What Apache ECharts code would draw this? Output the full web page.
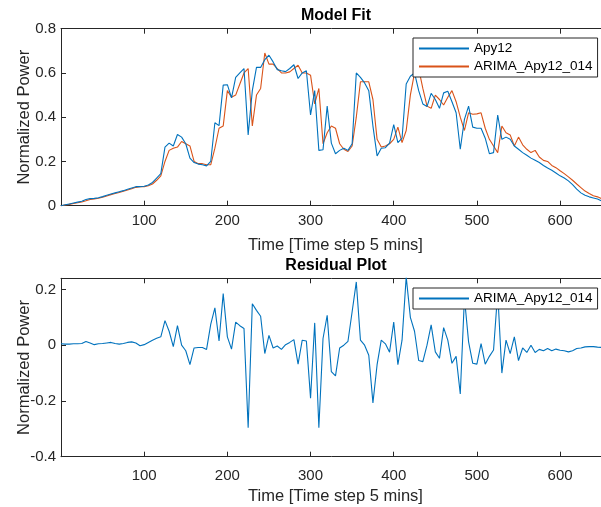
<!DOCTYPE html>
<html>
<head>
<meta charset="utf-8">
<script src="https://cdn.jsdelivr.net/npm/echarts@6/dist/echarts.min.js"></script>
<style>
  html, body { margin: 0; padding: 0; background: #fff; }
  #chart { width: 601px; height: 507px; }
</style>
</head>
<body>
<div id="chart"></div>
<script>
// Time index (every 5th step)
const timeSteps = [
  0, 5, 10, 15, 20, 25, 30, 35, 40, 45, 50, 55, 60, 65, 70, 75, 80, 85, 90, 95,
  100, 105, 110, 115, 120, 125, 130, 135, 140, 145, 150, 155, 160, 165, 170, 175, 180, 185, 190, 195,
  200, 205, 210, 215, 220, 225, 230, 235, 240, 245, 250, 255, 260, 265, 270, 275, 280, 285, 290, 295,
  300, 305, 310, 315, 320, 325, 330, 335, 340, 345, 350, 355, 360, 365, 370, 375, 380, 385, 390, 395,
  400, 405, 410, 415, 420, 425, 430, 435, 440, 445, 450, 455, 460, 465, 470, 475, 480, 485, 490, 495,
  500, 505, 510, 515, 520, 525, 530, 535, 540, 545, 550, 555, 560, 565, 570, 575, 580, 585, 590, 595,
  600, 605, 610, 615, 620, 625, 630, 635, 640, 645, 650, 655, 660
];

// Measured normalized power
const apy12 = [
  0.000, 0.004, 0.008, 0.012, 0.016, 0.020, 0.028, 0.032, 0.033, 0.036, 0.041, 0.047, 0.053, 0.058, 0.063, 0.068, 0.074, 0.080, 0.086, 0.086,
  0.088, 0.094, 0.105, 0.125, 0.145, 0.265, 0.283, 0.270, 0.322, 0.310, 0.280, 0.215, 0.195, 0.188, 0.185, 0.180, 0.200, 0.375, 0.362, 0.545,
  0.547, 0.487, 0.580, 0.600, 0.620, 0.320, 0.520, 0.625, 0.625, 0.660, 0.680, 0.650, 0.615, 0.610, 0.606, 0.620, 0.637, 0.575, 0.600, 0.610,
  0.410, 0.520, 0.250, 0.253, 0.450, 0.283, 0.235, 0.250, 0.260, 0.250, 0.280, 0.600, 0.580, 0.555, 0.520, 0.360, 0.225, 0.260, 0.262, 0.283,
  0.366, 0.285, 0.305, 0.550, 0.585, 0.600, 0.520, 0.460, 0.448, 0.508, 0.480, 0.440, 0.510, 0.517, 0.470, 0.420, 0.255, 0.390, 0.450, 0.355,
  0.350, 0.350, 0.305, 0.235, 0.240, 0.410, 0.300, 0.310, 0.300, 0.270, 0.255, 0.240, 0.228, 0.215, 0.205, 0.195, 0.182, 0.170, 0.160, 0.148,
  0.135, 0.125, 0.112, 0.095, 0.075, 0.058, 0.047, 0.040, 0.035, 0.030, 0.022, 0.016, 0.010
];

// ARIMA model output
const arimaFit = [
  0.000, 0.003, 0.006, 0.010, 0.013, 0.017, 0.022, 0.028, 0.031, 0.034, 0.038, 0.044, 0.050, 0.055, 0.060, 0.065, 0.071, 0.077, 0.083, 0.086,
  0.086, 0.090, 0.098, 0.115, 0.135, 0.200, 0.250, 0.260, 0.265, 0.290, 0.280, 0.270, 0.200, 0.190, 0.190, 0.185, 0.185, 0.260, 0.350, 0.360,
  0.520, 0.490, 0.500, 0.550, 0.600, 0.620, 0.360, 0.500, 0.530, 0.690, 0.640, 0.640, 0.620, 0.600, 0.600, 0.605, 0.620, 0.635, 0.600, 0.600,
  0.590, 0.460, 0.530, 0.280, 0.330, 0.360, 0.350, 0.280, 0.255, 0.245, 0.270, 0.400, 0.560, 0.560, 0.560, 0.480, 0.300, 0.265, 0.270, 0.280,
  0.300, 0.355, 0.285, 0.340, 0.500, 0.600, 0.620, 0.530, 0.450, 0.440, 0.500, 0.480, 0.455, 0.490, 0.520, 0.470, 0.400, 0.340, 0.420, 0.413,
  0.415, 0.420, 0.350, 0.300, 0.270, 0.240, 0.360, 0.330, 0.320, 0.270, 0.310, 0.275, 0.255, 0.240, 0.250, 0.220, 0.205, 0.200, 0.182, 0.172,
  0.158, 0.145, 0.130, 0.115, 0.098, 0.082, 0.066, 0.055, 0.045, 0.040, 0.032, 0.025, 0.018
];

// Residuals of the ARIMA fit
const residuals = [
  0.005, 0.004, 0.004, 0.005, 0.005, 0.006, 0.013, 0.008, 0.002, 0.005, 0.006, 0.008, 0.010, 0.006, 0.004, 0.006, 0.010, 0.012, 0.008, -0.002,
  0.002, 0.010, 0.018, 0.025, 0.030, 0.088, 0.050, -0.005, 0.070, 0.000, -0.020, -0.070, -0.010, -0.008, -0.008, -0.015, 0.075, 0.134, 0.015, 0.185,
  0.030, -0.014, 0.083, 0.070, 0.060, -0.296, 0.149, 0.125, 0.104, -0.030, 0.035, -0.010, -0.003, -0.015, 0.002, 0.010, 0.020, -0.068, 0.018, 0.015,
  -0.190, 0.080, -0.296, 0.024, 0.107, -0.095, -0.110, -0.010, 0.000, 0.014, 0.120, 0.227, 0.018, 0.000, -0.036, -0.207, -0.070, 0.018, 0.005, -0.025,
  0.083, -0.070, 0.018, 0.245, 0.100, 0.050, -0.055, -0.059, 0.000, 0.073, -0.024, -0.047, 0.063, 0.018, -0.065, -0.040, -0.175, 0.170, 0.012, -0.065,
  -0.068, 0.006, -0.068, -0.040, -0.017, 0.190, -0.100, 0.018, -0.030, 0.030, -0.055, -0.010, -0.026, 0.000, -0.026, -0.015, -0.020, -0.012, -0.020, -0.014,
  -0.018, -0.020, -0.024, -0.020, -0.012, -0.010, -0.006, -0.005, -0.005, -0.007, -0.008, -0.010, -0.010
];

const xTicks = [100, 200, 300, 400, 500, 600];
const fitTicks = [0, 0.2, 0.4, 0.6, 0.8];
const residualTicks = [-0.4, -0.2, 0, 0.2];

const FONT = 'Liberation Sans, Arial, sans-serif';
const AXIS_COLOR = '#262626';
const BLUE = '#0072BD';
const ORANGE = '#D95319';

const pairs = (ys) => timeSteps.map((t, i) => [t, ys[i]]);

function xAxisBase(gridIndex, position, withLabels, labelMargin, nameGap) {
  return {
    type: 'value', gridIndex, position, min: 0, max: 660, interval: 100,
    axisLine: { show: true, onZero: false, lineStyle: { color: AXIS_COLOR, width: 1 } },
    axisTick: { show: true, inside: true, length: 5, lineStyle: { color: AXIS_COLOR } },
    splitLine: { show: false },
    axisLabel: {
      show: withLabels, margin: labelMargin, fontFamily: FONT, fontSize: 15, color: AXIS_COLOR,
      formatter: (v) => xTicks.includes(v) ? String(v) : ''
    },
    name: withLabels ? 'Time [Time step 5 mins]' : '',
    nameLocation: 'middle', nameGap: nameGap, nameMoveOverlap: false,
    nameTextStyle: { fontFamily: FONT, fontSize: 16.5, color: AXIS_COLOR }
  };
}

function yAxisBase(gridIndex, min, max, ticks) {
  return {
    type: 'value', gridIndex, min, max, interval: 0.2,
    axisLine: { show: true, onZero: false, lineStyle: { color: AXIS_COLOR, width: 1 } },
    axisTick: { show: true, inside: true, length: 5, lineStyle: { color: AXIS_COLOR } },
    splitLine: { show: false },
    axisLabel: {
      margin: 5, fontFamily: FONT, fontSize: 15, color: AXIS_COLOR,
      formatter: (v) => {
        const hit = ticks.find((t) => Math.abs(t - v) < 1e-6);
        return hit === undefined ? '' : String(hit);
      }
    },
    name: 'Normalized Power', nameLocation: 'middle', nameGap: 28, nameMoveOverlap: false,
    nameTextStyle: { fontFamily: FONT, fontSize: 16.5, color: AXIS_COLOR }
  };
}

// Legend entries show only the line sample (no marker)
const legendCommon = {
  orient: 'vertical', selectedMode: false,
  backgroundColor: '#fff', borderColor: AXIS_COLOR, borderWidth: 1, borderRadius: 0,
  padding: [3.5, 5, 3.5, 5], itemWidth: 50, itemHeight: 14, itemGap: 4,
  itemStyle: { color: 'rgba(0,0,0,0)', borderColor: 'rgba(0,0,0,0)', borderWidth: 0 },
  textStyle: { fontFamily: FONT, fontSize: 13.5, color: '#000' }
};

const chart = echarts.init(document.getElementById('chart'), null, { renderer: 'canvas' });

chart.setOption({
  animation: false,
  backgroundColor: '#fff',
  grid: [
    { left: 61, top: 28.7, width: 549, height: 177, outerBoundsMode: 'none', containLabel: false },
    { left: 61, top: 278.3, width: 549, height: 178.4, outerBoundsMode: 'none', containLabel: false }
  ],
  xAxis: [
    xAxisBase(0, 'bottom', true, 8, 31),
    xAxisBase(0, 'top', false, 8, 31),
    xAxisBase(1, 'bottom', true, 12, 31),
    xAxisBase(1, 'top', false, 8, 31)
  ],
  yAxis: [
    yAxisBase(0, 0, 0.8, fitTicks),
    yAxisBase(1, -0.4, 0.24, residualTicks)
  ],
  legend: [
    Object.assign({}, legendCommon, { left: 413, top: 38, data: ['Apy12', 'ARIMA_Apy12_014'] }),
    Object.assign({}, legendCommon, {
      left: 413, top: 288, data: ['Residual'],
      formatter: () => 'ARIMA_Apy12_014'
    })
  ],
  graphic: [
    { type: 'text', x: 336, y: 16, style: { text: 'Model Fit', font: 'bold 16px ' + FONT, fill: '#000', textAlign: 'center', textVerticalAlign: 'middle' } },
    { type: 'text', x: 336, y: 266, style: { text: 'Residual Plot', font: 'bold 16px ' + FONT, fill: '#000', textAlign: 'center', textVerticalAlign: 'middle' } }
  ],
  series: [
    {
      name: 'Apy12', type: 'line', xAxisIndex: 0, yAxisIndex: 0,
      data: pairs(apy12), symbol: 'none', showSymbol: false,
      lineStyle: { color: BLUE, width: 1.1 }, itemStyle: { color: BLUE }, z: 3
    },
    {
      name: 'ARIMA_Apy12_014', type: 'line', xAxisIndex: 0, yAxisIndex: 0,
      data: pairs(arimaFit), symbol: 'none', showSymbol: false,
      lineStyle: { color: ORANGE, width: 1.1 }, itemStyle: { color: ORANGE }, z: 2
    },
    {
      name: 'Residual', type: 'line', xAxisIndex: 2, yAxisIndex: 1,
      data: pairs(residuals), symbol: 'none', showSymbol: false,
      lineStyle: { color: BLUE, width: 1.1 }, itemStyle: { color: BLUE }
    }
  ]
});
</script>
</body>
</html>
